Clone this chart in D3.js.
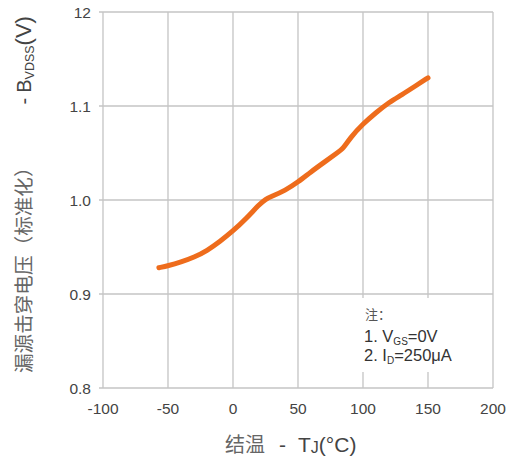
<!DOCTYPE html>
<html>
<head>
<meta charset="utf-8">
<script src="https://cdn.jsdelivr.net/npm/d3@7"></script>
<style>
  body { margin: 0; background: #fff; }
  svg { display: block; }
</style>
</head>
<body>
<svg id="chart" width="508" height="461"></svg>
<script>
// 结温 (°C) vs 归一化击穿电压
const tempC = [-57, -50, -40, -30, -20, -10, 0, 10, 20, 25, 30, 40, 50, 60, 70, 80, 85, 90, 100, 110, 120, 130, 140, 150];
const bvdss = [0.928, 0.930, 0.934, 0.939, 0.946, 0.956, 0.967, 0.980, 0.995, 1.001, 1.004, 1.010, 1.019, 1.030, 1.040, 1.050, 1.055, 1.066, 1.081, 1.093, 1.104, 1.112, 1.121, 1.130];
const xTicks = [-100, -50, 0, 50, 100, 150, 200];
const yTicks = [0.8, 0.9, 1.0, 1.1, 1.2];
const yTickLabels = ['0.8', '0.9', '1.0', '1.1', '12'];

const svg = d3.select('#chart');
const margin = { top: 12, right: 15, bottom: 73, left: 103 };
const width = +svg.attr('width') - margin.left - margin.right;
const height = +svg.attr('height') - margin.top - margin.bottom;

const xScale = d3.scaleLinear().domain([-100, 200]).range([margin.left, margin.left + width]);
const yScale = d3.scaleLinear().domain([0.8, 1.2]).range([margin.top + height, margin.top]);

const gridColor = '#c4c4c4';
const labelFont = 'Arial, "Liberation Sans", sans-serif';
const cjkFont = '"Noto Sans CJK SC", sans-serif';

// 网格线
svg.append('g')
    .selectAll('line')
    .data(xTicks)
    .join('line')
    .attr('x1', d => xScale(d))
    .attr('x2', d => xScale(d))
    .attr('y1', margin.top)
    .attr('y2', margin.top + height)
    .attr('stroke', gridColor)
    .attr('stroke-width', 1.3);

svg.append('g')
    .selectAll('line')
    .data(yTicks)
    .join('line')
    .attr('x1', margin.left - 4)
    .attr('x2', margin.left + width)
    .attr('y1', d => yScale(d))
    .attr('y2', d => yScale(d))
    .attr('stroke', gridColor)
    .attr('stroke-width', 1.3);

// 刻度标签
svg.append('g')
    .selectAll('text')
    .data(xTicks)
    .join('text')
    .attr('x', d => xScale(d))
    .attr('y', margin.top + height + 26)
    .attr('text-anchor', 'middle')
    .attr('font-family', labelFont)
    .attr('font-size', 15.5)
    .attr('fill', '#444')
    .text(d => d);

svg.append('g')
    .selectAll('text')
    .data(yTicks)
    .join('text')
    .attr('x', margin.left - 12)
    .attr('y', d => yScale(d) + 5.5)
    .attr('text-anchor', 'end')
    .attr('font-family', labelFont)
    .attr('font-size', 15.5)
    .attr('fill', '#444')
    .text((d, i) => yTickLabels[i]);

// 曲线
const line = d3.line()
    .x((d, i) => xScale(tempC[i]))
    .y(d => yScale(d))
    .curve(d3.curveBasis);

svg.append('path')
    .datum(bvdss)
    .attr('fill', 'none')
    .attr('stroke', '#ee6c1c')
    .attr('stroke-width', 5)
    .attr('stroke-linecap', 'round')
    .attr('d', line);

// 注释框
const note = svg.append('g');
note.append('rect')
    .attr('x', 358)
    .attr('y', 298)
    .attr('width', 110)
    .attr('height', 74)
    .attr('fill', '#fff');

note.append('text')
    .attr('x', 365)
    .attr('y', 319)
    .attr('font-family', cjkFont)
    .attr('font-size', 13)
    .attr('fill', '#555')
    .text('注：');

const n1 = note.append('text')
    .attr('x', 364)
    .attr('y', 342)
    .attr('font-family', labelFont)
    .attr('font-size', 16.5)
    .attr('fill', '#333');
n1.append('tspan').text('1. V');
n1.append('tspan').attr('font-size', 10).attr('dy', 3).text('GS');
n1.append('tspan').attr('dy', -3).text('=0V');

const n2 = note.append('text')
    .attr('x', 364)
    .attr('y', 361)
    .attr('font-family', labelFont)
    .attr('font-size', 16.5)
    .attr('fill', '#333');
n2.append('tspan').text('2. I');
n2.append('tspan').attr('font-size', 10).attr('dy', 3).text('D');
n2.append('tspan').attr('dy', -3).text('=250μA');

// 坐标轴标题
const xTitle = svg.append('text')
    .attr('x', 225)
    .attr('y', 452)
    .attr('font-size', 21)
    .attr('fill', '#444');
xTitle.append('tspan').attr('font-family', cjkFont).attr('font-size', 20).attr('fill', '#666').text('结温');
xTitle.append('tspan').attr('font-family', labelFont).attr('dx', 14).text('-');
xTitle.append('tspan').attr('font-family', labelFont).attr('dx', 12).text('T');
xTitle.append('tspan').attr('font-family', labelFont).attr('font-size', 16).attr('dy', 1).text('J');
xTitle.append('tspan').attr('font-family', labelFont).attr('dy', -1).text('(°C)');

const yTitle = svg.append('text')
    .attr('transform', 'translate(31,373) rotate(-90)')
    .attr('font-size', 20)
    .attr('fill', '#444');
yTitle.append('tspan').attr('font-family', cjkFont).attr('font-size', 19.6).attr('fill', '#666').text('漏源击穿电压（标准化）');
yTitle.append('tspan').attr('font-family', labelFont).attr('dx', 53).text('-');
yTitle.append('tspan').attr('font-family', labelFont).attr('dx', 5).text('B');
yTitle.append('tspan').attr('font-family', labelFont).attr('font-size', 12.5).attr('dy', 3).text('VDSS');
yTitle.append('tspan').attr('font-family', labelFont).attr('font-size', 22).attr('dy', -3).text('(V)');
</script>
</body>
</html>
